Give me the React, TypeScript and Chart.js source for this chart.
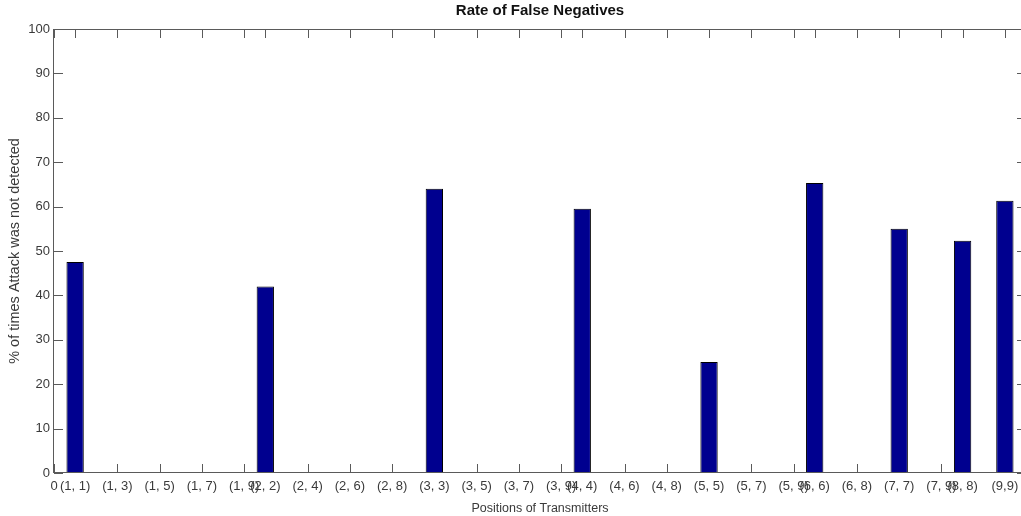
import React, { useEffect, useRef } from "react";
import { Chart, registerables } from "chart.js";

Chart.register(...registerables);

// ---- data ----
const categories: string[] = [
  "(1, 1)", "(1, 2)", "(1, 3)", "(1, 4)", "(1, 5)", "(1, 6)", "(1, 7)", "(1, 8)", "(1, 9)",
  "(2, 2)", "(2, 3)", "(2, 4)", "(2, 5)", "(2, 6)", "(2, 7)", "(2, 8)", "(2, 9)",
  "(3, 3)", "(3, 4)", "(3, 5)", "(3, 6)", "(3, 7)", "(3, 8)", "(3, 9)",
  "(4, 4)", "(4, 5)", "(4, 6)", "(4, 7)", "(4, 8)", "(4, 9)",
  "(5, 5)", "(5, 6)", "(5, 7)", "(5, 8)", "(5, 9)",
  "(6, 6)", "(6, 7)", "(6, 8)", "(6, 9)",
  "(7, 7)", "(7, 8)", "(7, 9)",
  "(8, 8)", "(8, 9)",
  "(9,9)",
];
const falseNegatives: number[] = [
  47.5, 0, 0, 0, 0, 0, 0, 0, 0,
  42, 0, 0, 0, 0, 0, 0, 0,
  64, 0, 0, 0, 0, 0, 0,
  59.5, 0, 0, 0, 0, 0,
  25, 0, 0, 0, 0,
  65.3, 0, 0, 0,
  55, 0, 0,
  52.3, 0,
  61.3,
];
const tickPositions: number[] = [
  0, 1, 3, 5, 7, 9, 10, 12, 14, 16, 18, 20, 22, 24, 25, 27, 29, 31, 33, 35, 36, 38, 40, 42, 43, 45,
];
const tickLabels: string[] = [
  "0", "(1, 1)", "(1, 3)", "(1, 5)", "(1, 7)", "(1, 9)", "(2, 2)", "(2, 4)", "(2, 6)", "(2, 8)",
  "(3, 3)", "(3, 5)", "(3, 7)", "(3, 9)", "(4, 4)", "(4, 6)", "(4, 8)", "(5, 5)", "(5, 7)", "(5, 9)",
  "(6, 6)", "(6, 8)", "(7, 7)", "(7, 9)", "(8, 8)", "(9,9)",
];
const xMin = 0;
const xMax = 46;
const yMin = 0;
const yMax = 100;
const yStep = 10;
const titleText = "Rate of False Negatives";
const xTitle = "Positions of Transmitters";
const yTitle = "% of times Attack was not detected";

const FONT = '"Liberation Sans", Arial, sans-serif';
const AXIS = "#5a5a5a";
const TEXT = "#3a3a3a";
const TICK_LEN = 9;

const boxPlugin = {
  id: "matlabBox",
  beforeDatasetsDraw(chart: any) {
    const { ctx, chartArea, scales } = chart;
    const { left, right, top, bottom } = chartArea;
    ctx.save();
    ctx.strokeStyle = AXIS;
    ctx.lineWidth = 1;
    ctx.beginPath();
    for (const t of scales.x.ticks) {
      const px = Math.round(scales.x.getPixelForValue(t.value)) + 0.5;
      ctx.moveTo(px, bottom);
      ctx.lineTo(px, bottom - TICK_LEN);
      ctx.moveTo(px, top);
      ctx.lineTo(px, top + TICK_LEN);
    }
    for (const t of scales.y.ticks) {
      const py = Math.round(scales.y.getPixelForValue(t.value)) + 0.5;
      ctx.moveTo(left, py);
      ctx.lineTo(left + TICK_LEN, py);
      ctx.moveTo(right, py);
      ctx.lineTo(right - TICK_LEN, py);
    }
    ctx.stroke();
    ctx.restore();
  },
  afterDraw(chart: any) {
    const { ctx, chartArea } = chart;
    const { left, right, top, bottom } = chartArea;
    ctx.save();
    ctx.strokeStyle = AXIS;
    ctx.lineWidth = 1;
    ctx.strokeRect(Math.round(left) - 0.5, Math.round(top) + 0.5, Math.round(right - left) + 1, Math.round(bottom - top) - 1);
    ctx.fillStyle = "#111";
    ctx.font = `bold 15px ${FONT}`;
    ctx.textAlign = "center";
    ctx.textBaseline = "middle";
    ctx.fillText(titleText, (left + right) / 2, 11);
    ctx.restore();
  },
};

export default function App() {
  const ref = useRef<HTMLCanvasElement | null>(null);

  useEffect(() => {
    if (!ref.current) return;
    const points = falseNegatives.map((v, i) => ({ x: i + 1, y: v, label: categories[i] }));
    const chart = new Chart(ref.current, {
      type: "bar",
      data: {
        datasets: [
          {
            data: points as any,
            backgroundColor: "#00008f",
            borderColor: "#000000",
            borderWidth: 1,
            borderSkipped: false,
            barPercentage: 0.82,
            categoryPercentage: 1,
          },
        ],
      },
      options: {
        responsive: false,
        animation: false,
        layout: { padding: { top: 29, right: 4, left: 0, bottom: 0 } },
        plugins: {
          legend: { display: false },
          tooltip: { enabled: false },
          title: { display: false },
        },
        scales: {
          x: {
            type: "linear",
            min: xMin,
            max: xMax,
            offset: false,
            grid: { display: false, drawTicks: false, offset: false },
            border: { display: false },
            afterBuildTicks: (scale: any) => {
              scale.ticks = tickPositions.map((v) => ({ value: v }));
            },
            afterFit: (scale: any) => {
              scale.height = 43;
            },
            ticks: {
              autoSkip: false,
              maxRotation: 0,
              minRotation: 0,
              padding: 6,
              color: TEXT,
              font: { family: FONT, size: 13 },
              callback: (value: any) => {
                const idx = tickPositions.indexOf(Number(value));
                return idx >= 0 ? tickLabels[idx] : "";
              },
            },
            title: {
              display: true,
              text: xTitle,
              color: TEXT,
              font: { family: FONT, size: 12.5 },
              padding: { top: 5.5, bottom: 0 },
            },
          },
          y: {
            type: "linear",
            min: yMin,
            max: yMax,
            grid: { display: false, drawTicks: false },
            border: { display: false },
            afterFit: (scale: any) => {
              scale.width = 54;
            },
            ticks: {
              stepSize: yStep,
              padding: 4,
              color: TEXT,
              font: { family: FONT, size: 13 },
            },
            title: {
              display: true,
              text: yTitle,
              color: TEXT,
              font: { family: FONT, size: 14.5 },
              padding: { top: 6, bottom: 0 },
            },
          },
        },
      },
      plugins: [boxPlugin],
    });
    return () => chart.destroy();
  }, []);

  return (
    <div
      style={{
        position: "fixed",
        left: 0,
        top: 0,
        width: 1021,
        height: 516,
        overflow: "hidden",
        background: "#fff",
      }}
    >
      <canvas ref={ref} width={1030} height={516} style={{ width: 1030, height: 516, display: "block" }} />
    </div>
  );
}
